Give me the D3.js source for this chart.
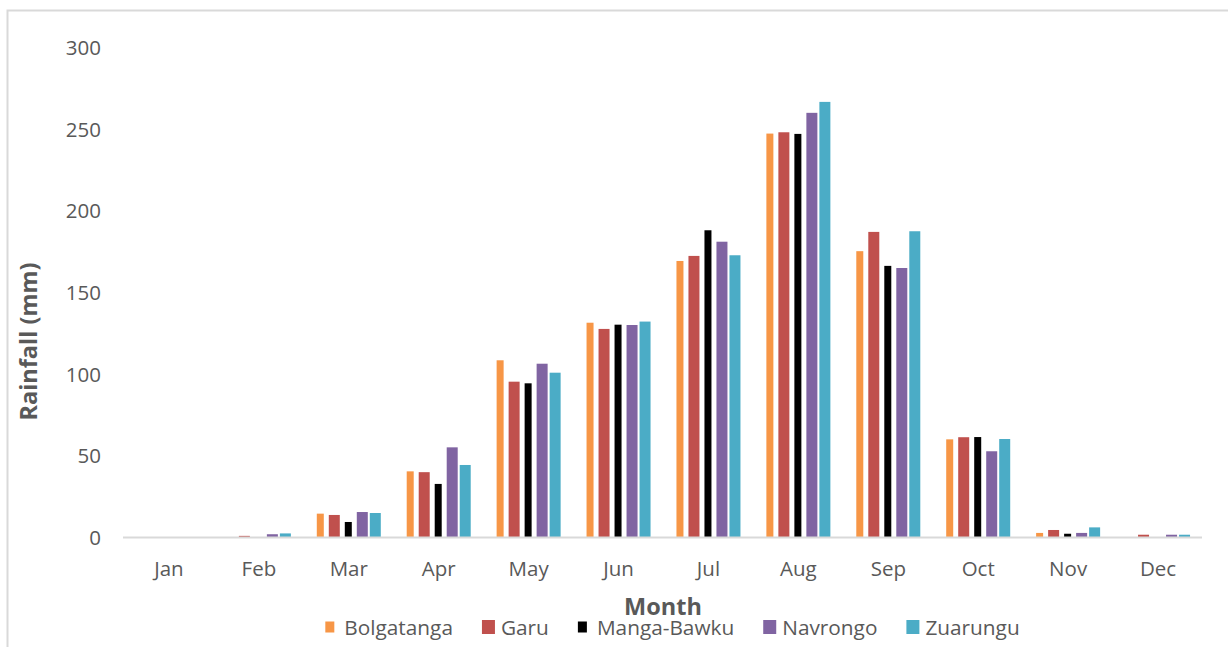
<!DOCTYPE html>
<html>
<head>
<meta charset="utf-8">
<script src="https://cdn.jsdelivr.net/npm/d3@7"></script>
<style>
  body { margin: 0; background: #fff; }
  text { font-family: "Open Sans", sans-serif; fill: #595959; }
</style>
</head>
<body>
<svg id="chart" width="1228" height="647"></svg>
<script>
// months on the x axis
const months = ['Jan', 'Feb', 'Mar', 'Apr', 'May', 'Jun', 'Jul', 'Aug', 'Sep', 'Oct', 'Nov', 'Dec'];

// rainfall (mm) per station
const bolgatanga = [0, 0, 14.6, 40.5, 108.5, 131.5, 169.3, 247.3, 175.3, 60.1, 2.8, 0];
const garu       = [0, 1, 13.8, 40, 95.4, 127.7, 172.4, 248.1, 187.1, 61.4, 4.6, 1.7];
const mangaBawku = [0, 0, 9.5, 32.8, 94.4, 130.3, 188.1, 247.1, 166.3, 61.5, 2.3, 0];
const navrongo   = [0, 2, 15.6, 55.2, 106.4, 130.1, 181.1, 260, 165, 52.8, 2.8, 1.7];
const zuarungu   = [0, 2.5, 15, 44.4, 100.9, 132.2, 172.8, 266.7, 187.5, 60.3, 6.2, 1.7];

const seriesNames = ['Bolgatanga', 'Garu', 'Manga-Bawku', 'Navrongo', 'Zuarungu'];
const seriesValues = [bolgatanga, garu, mangaBawku, navrongo, zuarungu];
const yTicks = [0, 50, 100, 150, 200, 250, 300];

// look of each series (colour, drawn width, nudge within its slot)
const colors = ['#F79646', '#C0504D', '#000000', '#8064A2', '#4BACC6'];
const barW = [7, 11, 7, 11, 11];
const barDx = [0, -0.8, 2.4, 1.6, 1.8];

const svg = d3.select('#chart');

// outer chart frame
svg.append('rect')
    .attr('x', 7.5).attr('y', 10.5)
    .attr('width', 1300).attr('height', 700)
    .attr('fill', 'none')
    .attr('stroke', '#d9d9d9')
    .attr('stroke-width', 2);

const x0 = d3.scaleBand().domain(months).range([124, 1203]);
const x1 = d3.scaleBand().domain(seriesNames).range([-32, 32]);
const y = d3.scaleLinear().domain([0, 300]).range([537.5, 47.5]);

// y tick labels (no gridlines)
svg.append('g')
    .selectAll('text')
    .data(yTicks)
    .join('text')
    .attr('x', 101)
    .attr('y', d => y(d))
    .attr('dy', '0.36em')
    .attr('text-anchor', 'end')
    .attr('font-size', '20.5px')
    .text(d => d);

// bars
seriesNames.forEach((name, i) => {
    svg.append('g')
        .selectAll('rect')
        .data(seriesValues[i])
        .join('rect')
        .attr('x', (d, j) => x0(months[j]) + x0.bandwidth() / 2 + x1(name) + barDx[i])
        .attr('y', d => y(d))
        .attr('width', barW[i])
        .attr('height', d => y(0) - y(d))
        .attr('fill', colors[i]);
});

// baseline
svg.append('line')
    .attr('x1', 123).attr('x2', 1202)
    .attr('y1', y(0)).attr('y2', y(0))
    .attr('stroke', '#d9d9d9')
    .attr('stroke-width', 2);

// month labels
svg.append('g')
    .selectAll('text')
    .data(months)
    .join('text')
    .attr('x', d => x0(d) + x0.bandwidth() / 2)
    .attr('y', 576)
    .attr('text-anchor', 'middle')
    .attr('font-size', '20.5px')
    .text(d => d);

// axis titles
svg.append('text')
    .attr('transform', 'translate(37, 341.5) rotate(-90)')
    .attr('text-anchor', 'middle')
    .attr('font-size', '23.5px')
    .attr('font-weight', 'bold')
    .text('Rainfall (mm)');

svg.append('text')
    .attr('x', 663)
    .attr('y', 615)
    .attr('text-anchor', 'middle')
    .attr('font-size', '23.5px')
    .attr('font-weight', 'bold')
    .text('Month');

// legend
const legend = svg.append('g');
let lx = 0;
seriesNames.forEach((name, i) => {
    const item = legend.append('g').attr('transform', `translate(${lx}, 0)`);
    const sq = barW[i] > 8 ? 13 : 9;
    item.append('rect')
        .attr('x', 0)
        .attr('y', 627 - (sq > 9 ? 7 : 5.5))
        .attr('width', sq)
        .attr('height', sq > 9 ? 14 : 11)
        .attr('fill', colors[i]);
    const t = item.append('text')
        .attr('x', 19)
        .attr('y', 634.5)
        .attr('font-size', '20.8px')
        .text(name);
    lx += 19 + t.node().getComputedTextLength() + 29;
});
const legendW = lx - 29;
legend.attr('transform', `translate(${672.5 - legendW / 2}, 0)`);
</script>
</body>
</html>
